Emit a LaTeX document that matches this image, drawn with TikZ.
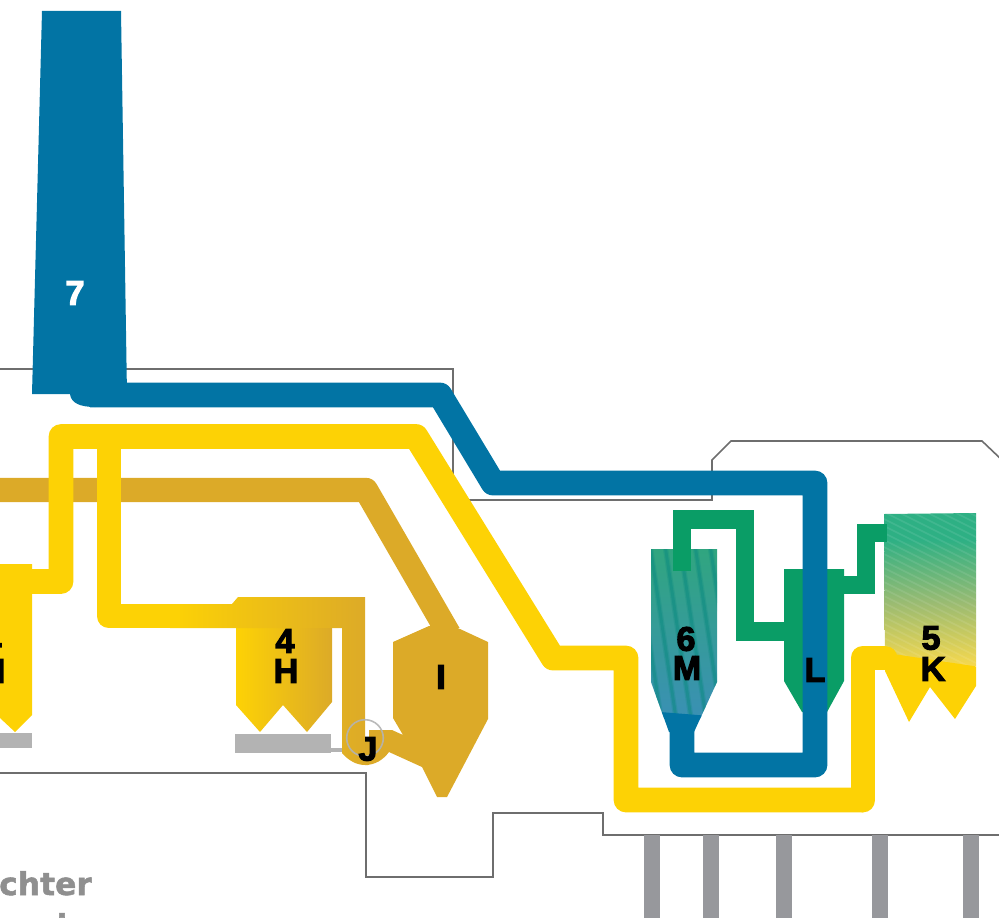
\documentclass[tikz,border=0pt]{standalone}
\usepackage{fontspec}
\newfontfamily\lbl[FakeBold=3.4]{Liberation Sans Bold}
\newfontfamily\grayfont[FakeBold=1.6]{DejaVu Sans Bold}
\definecolor{flueblue}{HTML}{0274A4}
\definecolor{fluegold}{HTML}{FDD205}
\definecolor{mustard}{HTML}{DCAA28}
\definecolor{fluegreen}{HTML}{0A9D66}
\definecolor{outline}{HTML}{6E6E6E}
\definecolor{legs}{HTML}{97989C}
\definecolor{slab}{HTML}{B3B3B3}
\definecolor{ktop}{HTML}{2EB084}
\definecolor{kmid}{HTML}{9ABB72}
\definecolor{kbot}{HTML}{F5D84E}
\definecolor{mtop}{HTML}{30A67E}
\definecolor{mbot}{HTML}{3A90B4}
\definecolor{mstripe}{HTML}{0A8A80}
\definecolor{greytxt}{HTML}{8F8F8F}
\tikzset{
  bluepipe/.style={line join=round,line width=18.6pt,draw=flueblue},
  goldpipe/.style={line join=round,line width=18.6pt,draw=fluegold},
  mustpipe/.style={line join=round,line width=18.2pt,draw=mustard},
  greenpipe/.style={line join=miter,line width=13.9pt,draw=fluegreen},
  wall/.style={draw=outline,line width=1.2pt},
  tag/.style={font=\lbl\fontsize{25.5pt}{25.5pt}\selectfont,text=black,inner sep=0pt},
  leg/.style={fill=legs,draw=none},
  graytext/.style={inner sep=0pt,text=greytxt,font=\grayfont\fontsize{23.5pt}{23.5pt}\selectfont},
}
\begin{document}
\begin{tikzpicture}[x=0.75pt,y=-0.75pt]
\useasboundingbox (0,0) rectangle (999,917);
\clip (0,0) rectangle (999,917);
% building outline
\draw[wall] (-5,369) -- (453,369) -- (453,500) -- (712,500) -- (712,460) -- (731,441) -- (982,441) -- (1003,461);
\draw[wall] (-5,773) -- (366,773) -- (366,877) -- (493,877) -- (493,813) -- (603,813) -- (603,835) -- (1003,835);
% legs
\foreach \xa in {644,703,776,872,963}
  \fill[leg] (\xa,835) rectangle (\xa+16,920);
% grey slabs
\fill[slab] (-5,733) rectangle (32,748);
\fill[slab] (235,734) rectangle (331,753);
\fill[slab] (331,748) rectangle (343,752);
% mustard duct and unit I
\coordinate (mA) at (-5,490);
\coordinate (mB) at (366,490);
\coordinate (mC) at (449,634);
\draw[mustpipe] (mA) -- (mB) -- (mC);
\fill[mustard] (429,626) -- (460,629) -- (488,642) -- (488,719) -- (447,797) -- (437,797) -- (422,767) -- (389,752) .. controls (383,760) and (375,765) .. (365,765) -- (358,745) -- (365,740) -- (369,740) -- (369,730) -- (392,730) -- (403,735) -- (393,718) -- (393,642) -- cycle;
% left silo
\fill[fluegold] (-5,564) -- (32,564) -- (32,715) -- (15,732) -- (0,718) -- (-5,718) -- cycle;
% silo H
\shade[left color=fluegold,right color=mustard] (236,625) -- (236,705) -- (260,732) -- (283,705) -- (307,732) -- (332,702) -- (332,625) -- cycle;
% gold pipe into H and J
\shade[left color=fluegold,right color=mustard] (170,604) -- (232,604) -- (238,597) -- (365,597) -- (365,745) -- (368,765) -- (365,765) .. controls (356,765) and (348,760) .. (342,753) -- (342,628) -- (170,628) -- cycle;
\draw[slab,line width=1.2pt,opacity=.9] (365,738) circle (18.3);
% gold main pipes
\coordinate (gA) at (20,581.5);
\coordinate (gB) at (61,581.5);
\coordinate (gC) at (61,436.5);
\coordinate (gD) at (416,436.5);
\coordinate (gE) at (553,658);
\coordinate (gF) at (626,658);
\coordinate (gG) at (626,800);
\coordinate (gH) at (863,800);
\coordinate (gI) at (863,658);
\coordinate (gJ) at (885,658);
\coordinate (gK) at (109,436.5);
\coordinate (gL) at (109,616);
\coordinate (gM) at (180,616);
\draw[goldpipe] (gK) -- (gL) -- (gM);
\draw[goldpipe] (gA) -- (gB) -- (gC) -- (gD) -- (gE) -- (gF) -- (gG) -- (gH);
% unit 5/K
\begin{scope}
\clip (884,514) -- (976,513) -- (976,686) -- (955,719) -- (930,687) -- (909,722) -- (885,671) -- cycle;
\shade[top color=ktop,bottom color=kbot,middle color=kmid] (880,540) rectangle (980,665);
\fill[ktop] (880,510) rectangle (980,541);
\foreach \k in {-60,-53,...,170}
  \draw[white,opacity=.09,line width=1.3pt] (880,500+\k) -- (980,550+\k);
\fill[fluegold] (880,652) -- (980,667) -- (980,730) -- (880,730) -- cycle;
\end{scope}
\draw[goldpipe,line cap=round] (gH) -- (gI) -- (gJ);
% unit 6/M
\begin{scope}
\clip (651,549) -- (717,549) -- (717,682) -- (694,732) -- (669,732) -- (651,682) -- cycle;
\shade[top color=mtop,bottom color=mbot] (645,545) rectangle (725,718);
\foreach \k in {-30,-15,...,75}
  {\draw[mstripe,opacity=.25,line width=4pt] (650+\k,545) -- (677+\k,725);
   \draw[mstripe,opacity=.42,line width=2.2pt] (650+\k,545) -- (677+\k,725);}
\fill[flueblue] (660,712) -- (710,716) -- (710,735) -- (660,735) -- cycle;
\end{scope}
% unit L
\fill[fluegreen] (784,569) -- (844,569) -- (844,681) -- (827,712) -- (802,712) -- (784,681) -- cycle;
% green pipes
\coordinate (nA) at (682,571);
\coordinate (nB) at (682,519.5);
\coordinate (nC) at (745,519.5);
\coordinate (nD) at (745,631.5);
\coordinate (nE) at (790,631.5);
\coordinate (nF) at (840,585);
\coordinate (nG) at (866,585);
\coordinate (nH) at (866,533);
\coordinate (nI) at (887,533);
\draw[greenpipe] (nA) -- (nB) -- (nC) -- (nD) -- (nE);
\draw[greenpipe] (nF) -- (nG) -- (nH) -- (nI);
% blue pipe and stack
\coordinate (bA) at (90,395);
\coordinate (bB) at (440,395);
\coordinate (bC) at (493,483);
\coordinate (bD) at (815,483);
\coordinate (bE) at (815,765);
\coordinate (bF) at (682,765);
\coordinate (bG) at (682,725);
\draw[bluepipe] (bA) -- (bB) -- (bC) -- (bD) -- (bE) -- (bF) -- (bG);
\fill[flueblue] (42,11) -- (121,11) -- (127,395) -- (95,407) .. controls (80,407) and (71,403) .. (70,394) -- (32,394) -- cycle;
% labels
\node[tag,text=white] (n7) at (75,293) {7};
\node[tag] (n4a) at (-8,640) {4};
\node[tag] (nHa) at (-7,671) {H};
\node[tag] (n4) at (285,641) {4};
\node[tag] (nH) at (286,671) {H};
\node[tag] (nI) at (441,677) {I};
\node[tag] (nJ) at (368,749) {J};
\node[tag] (n6) at (686,639) {6};
\node[tag] (nM) at (687,668) {M};
\node[tag] (nL) at (815,670) {L};
\node[tag] (n5) at (931,638) {5};
\node[tag] (nK) at (933,669) {K};
\node[graytext,anchor=base west] (gt) at (-1,895) {chter};
\node[graytext,anchor=base] (gi) at (62,937) {i};
\end{tikzpicture}
\end{document}
